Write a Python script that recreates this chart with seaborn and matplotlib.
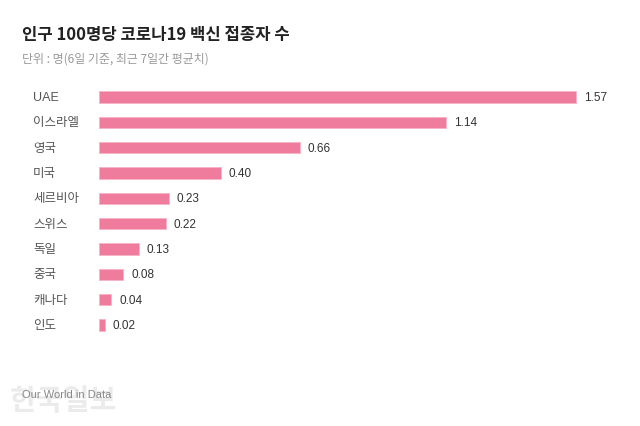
import numpy as np
import pandas as pd
import matplotlib
matplotlib.use("Agg")
import matplotlib.pyplot as plt
import seaborn as sns

# data
countries = ["UAE", "이스라엘", "영국", "미국", "세르비아", "스위스", "독일", "중국", "캐나다", "인도"]
doses = [1.57, 1.14, 0.66, 0.40, 0.23, 0.22, 0.13, 0.08, 0.04, 0.02]

title = "인구 100명당 코로나19 백신 접종자 수"
subtitle = "단위 : 명(6일 기준, 최근 7일간 평균치)"
source = "Our World in Data"

sns.set_theme(style="white")
plt.rcParams['font.family'] = ['Noto Sans CJK KR', 'DejaVu Sans']
latin = ['Liberation Sans', 'Noto Sans CJK KR']

df = pd.DataFrame({"country": countries, "value": doses})

fig = plt.figure(figsize=(6.4, 4.27), dpi=100)
ax = fig.add_axes([99/640, 0.2068, 0.8077, 0.5934])

sns.barplot(data=df, x="value", y="country", orient="h", color="#ef7c9c",
            width=0.44, edgecolor="#f7b3c6", linewidth=0.6, saturation=1, ax=ax)

ax.set_xlim(0, 1.7)
ax.set_ylim(9.5, -0.5)
ax.set_xlabel("")
ax.set_ylabel("")
ax.set_xticks([])
ax.set_yticks([])
for s in ax.spines.values():
    s.set_visible(False)

for i, (c, v) in enumerate(zip(countries, doses)):
    ax.text(v + 0.026, i, f"{v:.2f}", va="center", ha="left", fontsize=8.5,
            color="#333333", family=latin)
    fig.text(33/640, 1 - (98 + i*25.33)/427, c, va="center", ha="left", fontsize=9,
             color="#555555", family=latin)

fig.text(22/640, 1 - 35/427, title, fontsize=12, fontweight="bold", color="#222222", va="center")
fig.text(22/640, 1 - 59/427, subtitle, fontsize=8.6, color="#999999", va="center")

# watermark
fig.text(10/640, 1 - 401/427, "한국일보", fontsize=21, fontweight="bold", color="#ebebeb", va="center")
fig.text(22/640, 1 - 395/427, source, fontsize=8, color="#888888", va="center", family=latin)

fig.savefig("out.png", dpi=100)
